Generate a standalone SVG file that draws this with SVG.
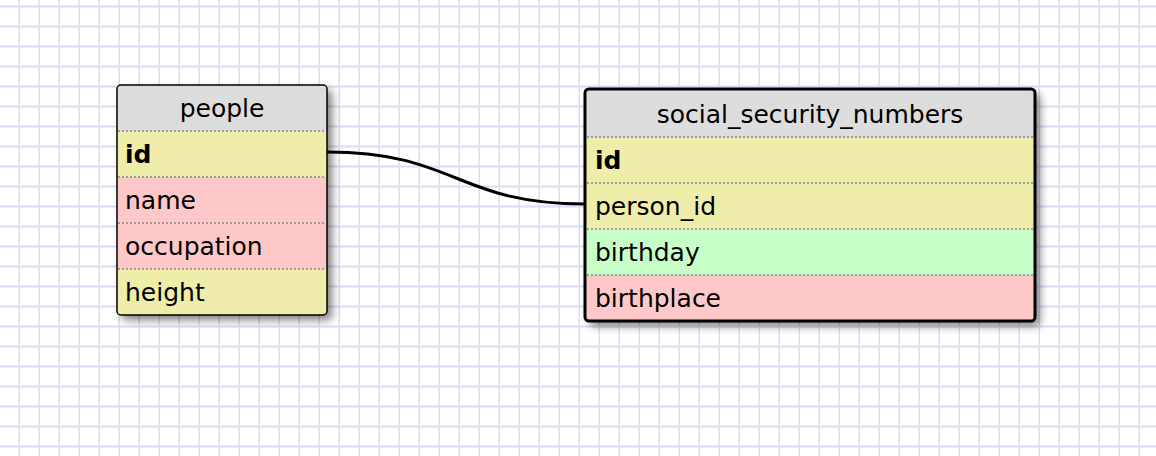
<svg xmlns="http://www.w3.org/2000/svg" width="1156" height="456" viewBox="0 0 1156 456">
<style>
.t{font-family:"DejaVu Sans",Verdana,sans-serif;font-size:25px;fill:#000}
.b{font-weight:bold}
.sep{stroke:#888;stroke-width:1.5;stroke-dasharray:2,2}
.hdr{fill:#dddddd}.y{fill:#eeeeaa}.r{fill:#ffc8c8}.g{fill:#c8ffc8}
</style>
<defs>
<pattern id="grid" x="0" y="0" width="20" height="20" patternUnits="userSpaceOnUse">
<rect width="20" height="20" fill="#fff"/>
<rect x="18.5" y="0" width="2" height="20" fill="#dcdcf6"/>
<rect x="0" y="5.5" width="20" height="2" fill="#dcdcf6"/>
</pattern>
<filter id="sh" x="-10%" y="-10%" width="130%" height="130%">
<feDropShadow dx="5" dy="5" stdDeviation="4" flood-color="#000" flood-opacity="0.5"/>
</filter>
<clipPath id="c1"><rect x="117" y="85" width="210" height="230" rx="4"/></clipPath>
<clipPath id="c2"><rect x="585" y="89" width="450" height="232" rx="4"/></clipPath>
</defs>
<rect width="1156" height="456" fill="url(#grid)"/>
<g id="connectors">
<path d="M327,152 C456,152 456,204 585,204" fill="none" stroke="#000" stroke-width="3"/>
</g>
<g id="people">
<rect x="117" y="85" width="210" height="230" rx="4" fill="#fff" filter="url(#sh)"/>
<g clip-path="url(#c1)">
<rect class="hdr" x="117" y="85" width="210" height="46"/>
<rect class="y" x="117" y="131" width="210" height="46"/>
<rect class="r" x="117" y="177" width="210" height="46"/>
<rect class="r" x="117" y="223" width="210" height="46"/>
<rect class="y" x="117" y="269" width="210" height="46"/>
</g>
<line class="sep" x1="118" y1="131" x2="326" y2="131"/>
<line class="sep" x1="118" y1="177" x2="326" y2="177"/>
<line class="sep" x1="118" y1="223" x2="326" y2="223"/>
<line class="sep" x1="118" y1="269" x2="326" y2="269"/>
<rect x="117" y="85" width="210" height="230" rx="4" fill="none" stroke="#000" stroke-width="1.5"/>
<text class="t" x="222" y="117" text-anchor="middle">people</text>
<text class="t b" x="125" y="163">id</text>
<text class="t" x="125" y="209">name</text>
<text class="t" x="125" y="255">occupation</text>
<text class="t" x="125" y="301">height</text>
</g>
<g id="social_security_numbers">
<rect x="585" y="89" width="450" height="232" rx="4" fill="#fff" filter="url(#sh)"/>
<g clip-path="url(#c2)">
<rect class="hdr" x="585" y="89" width="450" height="48"/>
<rect class="y" x="585" y="137" width="450" height="46"/>
<rect class="y" x="585" y="183" width="450" height="46"/>
<rect class="g" x="585" y="229" width="450" height="46"/>
<rect class="r" x="585" y="275" width="450" height="46"/>
</g>
<line class="sep" x1="587" y1="137" x2="1033" y2="137"/>
<line class="sep" x1="587" y1="183" x2="1033" y2="183"/>
<line class="sep" x1="587" y1="229" x2="1033" y2="229"/>
<line class="sep" x1="587" y1="275" x2="1033" y2="275"/>
<rect x="585" y="89" width="450" height="232" rx="4" fill="none" stroke="#000" stroke-width="3"/>
<text class="t" x="810" y="123" text-anchor="middle">social_security_numbers</text>
<text class="t b" x="595" y="169">id</text>
<text class="t" x="595" y="215">person_id</text>
<text class="t" x="595" y="261">birthday</text>
<text class="t" x="595" y="307">birthplace</text>
</g>
</svg>
